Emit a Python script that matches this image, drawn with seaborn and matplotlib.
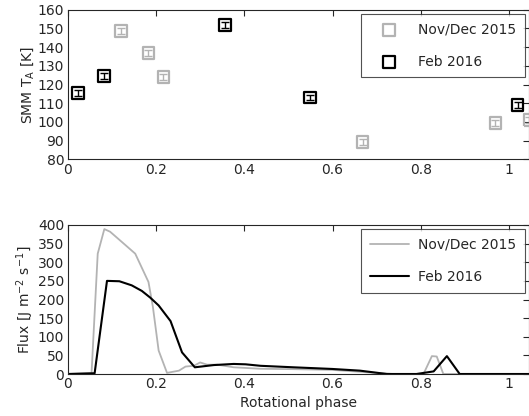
import numpy as np
import pandas as pd
import matplotlib
matplotlib.use("Agg")
import matplotlib.pyplot as plt
import seaborn as sns

# ---- data: SMM antenna temperature ----
nov_phase = [0.120, 0.183, 0.217, 0.668, 0.969, 1.046]
nov_ta = [148.5, 137.0, 124.0, 89.2, 99.5, 101.0]
nov_err = [1.5, 1.5, 1.5, 1.5, 1.5, 1.5]

feb_phase = [0.024, 0.082, 0.356, 0.549, 1.019]
feb_ta = [115.5, 124.5, 151.8, 113.0, 109.2]
feb_err = [1.5, 1.5, 1.5, 1.5, 1.5]

# ---- data: flux curves ----
nov_flux_phase = [0.0, 0.054, 0.068, 0.083, 0.096, 0.127, 0.153, 0.183, 0.193, 0.206,
                  0.225, 0.252, 0.267, 0.286, 0.300, 0.316, 0.339, 0.376, 0.437, 0.511,
                  0.600, 0.685, 0.738, 0.806, 0.825, 0.836, 0.851, 1.05]
nov_flux = [0, 2, 323, 389, 382, 350, 323, 247, 180, 63,
            3, 9, 20, 22, 31, 25, 25, 18, 14, 13,
            11, 4, 0, 0, 48, 47, 0, 0]

feb_flux_phase = [0.0, 0.061, 0.089, 0.117, 0.145, 0.168, 0.187, 0.206, 0.233, 0.259,
                  0.288, 0.331, 0.376, 0.403, 0.437, 0.511, 0.600, 0.662, 0.723, 0.790,
                  0.829, 0.859, 0.888, 1.05]
feb_flux = [0, 2, 250, 249, 238, 223, 205, 184, 142, 58,
            18, 24, 27, 26, 22, 18, 13.5, 9, 0, 0,
            7, 48, 0, 0]

labels = ["Nov/Dec 2015", "Feb 2016"]
colors = ["#b3b3b3", "#000000"]

sns.set_style("white")
plt.rcParams["font.family"] = ["DejaVu Sans"]
text_col = "#262626"
FS = 10
plt.rcParams.update({
    "font.size": FS,
    "axes.edgecolor": text_col,
    "axes.labelcolor": text_col,
    "xtick.color": text_col,
    "ytick.color": text_col,
    "axes.linewidth": 0.8,
})

W, H = 529, 416
fig = plt.figure(figsize=(W / 100, H / 100), dpi=100)
left = 67.7 / W
width = (W - 67.7) / W
ax1 = fig.add_axes([left, (H - 159.3) / H, width, 149.6 / H])
ax2 = fig.add_axes([left, (H - 374.0) / H, width, 149.0 / H])

# ---- top panel ----
df_nov = pd.DataFrame({"phase": nov_phase, "ta": nov_ta})
df_feb = pd.DataFrame({"phase": feb_phase, "ta": feb_ta})
for df, err, col, lab in [(df_nov, nov_err, colors[0], labels[0]),
                          (df_feb, feb_err, colors[1], labels[1])]:
    ax1.errorbar(df["phase"], df["ta"], yerr=err, fmt="none", ecolor=col,
                 elinewidth=1.0, capsize=2.6, capthick=1.0, zorder=3)
    sns.scatterplot(data=df, x="phase", y="ta", ax=ax1, marker="s", s=72,
                    facecolor="none", edgecolor=col, linewidth=1.6,
                    label=lab, zorder=4, clip_on=False)

ax1.set_xlim(0, 1.045)
ax1.set_ylim(80, 160)
ax1.set_yticks(np.arange(80, 161, 10))
ax1.set_xticks([0, 0.2, 0.4, 0.6, 0.8, 1.0])
ax1.set_xticklabels(["0", "0.2", "0.4", "0.6", "0.8", "1"])
ax1.set_xlabel("")
ax1.set_ylabel("SMM T$_\\mathregular{A}$ [K]", labelpad=1)

# ---- bottom panel ----
df_fn = pd.DataFrame({"phase": nov_flux_phase, "flux": nov_flux})
df_ff = pd.DataFrame({"phase": feb_flux_phase, "flux": feb_flux})
sns.lineplot(data=df_fn, x="phase", y="flux", ax=ax2, color=colors[0],
             linewidth=1.3, label=labels[0], sort=False, estimator=None)
sns.lineplot(data=df_ff, x="phase", y="flux", ax=ax2, color=colors[1],
             linewidth=1.5, label=labels[1], sort=False, estimator=None)
ax2.set_xlim(0, 1.045)
ax2.set_ylim(0, 400)
ax2.set_yticks(np.arange(0, 401, 50))
ax2.set_xticks([0, 0.2, 0.4, 0.6, 0.8, 1.0])
ax2.set_xticklabels(["0", "0.2", "0.4", "0.6", "0.8", "1"])
ax2.set_xlabel("Rotational phase", labelpad=3)
ax2.set_ylabel("Flux [J m$^{-2}$ s$^{-1}$]", labelpad=1)

for ax in (ax1, ax2):
    ax.tick_params(direction="in", top=True, right=True, length=4, width=0.8,
                   pad=2.5, labelsize=FS)
    for s in ax.spines.values():
        s.set_visible(True)
        s.set_color(text_col)
    leg = ax.legend(loc="upper right", fontsize=FS, frameon=True, fancybox=False,
                    edgecolor=text_col, borderaxespad=0.3, borderpad=0.63,
                    labelspacing=1.3, handlelength=2.83, handletextpad=0.65)
    leg.get_frame().set_linewidth(0.8)
    for t in leg.get_texts():
        t.set_color(text_col)

fig.savefig("out.png", dpi=100)
